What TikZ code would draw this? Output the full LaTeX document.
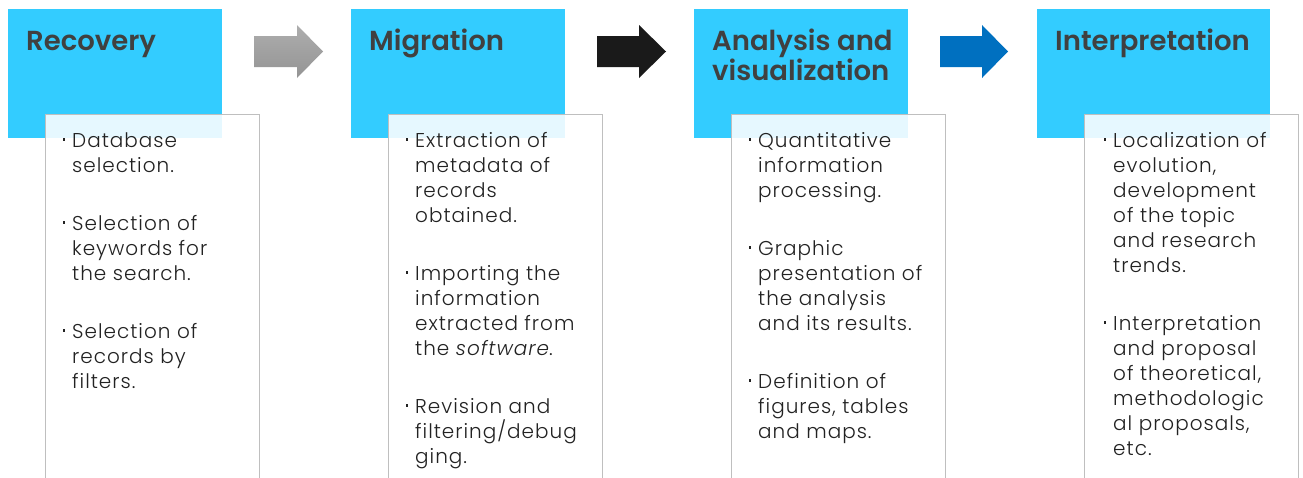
\documentclass[tikz,border=0pt]{standalone}
\usepackage{fontspec}
\setmainfont{Poppins Light}[ItalicFont={Poppins Light Italic}, LetterSpace=5]
\newfontfamily\ttlfont{Poppins SemiBold}
\definecolor{hdr}{HTML}{33CCFF}
\definecolor{ttlcol}{HTML}{404040}
\definecolor{bodycol}{HTML}{222222}
\definecolor{edge}{HTML}{BFBFBF}
\definecolor{arrblue}{HTML}{0070C0}
\definecolor{arrblack}{HTML}{1A1A1A}
\newcommand\itm[1]{\noindent\hangindent=10pt\hangafter=1\makebox[10pt][l]{\kern0.5pt\raisebox{6.5pt}{\rule{2.1pt}{2.1pt}}}#1\par}
\newcommand\itmgap{\vskip33pt}
\newcommand\bodylist[1]{\vtop{\hsize=260pt\fontsize{20}{25}\selectfont\baselineskip=25pt\parskip=0pt\parindent=0pt\rightskip=0pt plus 1fil\parfillskip=0pt plus 1fil #1}}
\tikzset{
  x=1pt, y=-1pt,
  hdrbox/.style={fill=hdr, draw=none, anchor=north west, inner sep=0pt, minimum width=214pt, minimum height=129pt},
  txtbox/.style={fill=white, fill opacity=0.88, draw=edge, line width=1.4pt, anchor=north west, inner sep=0pt, minimum width=214pt, minimum height=380pt},
  ttl/.style={anchor=base west, inner sep=0pt, text=ttlcol, font=\ttlfont\fontsize{27.5}{30}\selectfont},
  body/.style={anchor=base west, inner sep=0pt, text=bodycol},
  blockarrow/.style={draw=none}
}
\begin{document}
\begin{tikzpicture}
\useasboundingbox (0,0) rectangle (1303,477);
\clip (0,0) rectangle (1303,477);
% header boxes
\node[hdrbox] (h1) at (8,9) {};
\node[hdrbox] (h2) at (351,9) {};
\node[hdrbox] (h3) at (694,9) {};
\node[hdrbox, minimum width=233pt] (h4) at (1037,9) {};
% text boxes
\node[txtbox] (w1) at (45,114) {};
\node[txtbox] (w2) at (388,114) {};
\node[txtbox] (w3) at (731,114) {};
\node[txtbox] (w4) at (1083.5,114) {};
% titles
\node[ttl] (t1) at (26,50) {Recovery};
\node[ttl] (t2) at (369,50) {Migration};
\node[ttl] (t3) at (712,50) {\vtop{\baselineskip=30pt\hbox{Analysis and}\hbox{visualization}}};
\node[ttl] (t4) at (1055,50) {Interpretation};
% bodies
\node[body] (b1) at (62,147) {\bodylist{%
\itm{Database\newline selection.}\itmgap
\itm{Selection of\newline keywords for\newline the search.}\itmgap
\itm{Selection of\newline records by\newline filters.}}};
\node[body] (b2) at (405,147) {\bodylist{%
\itm{Extraction of\newline metadata of\newline records\newline obtained.}\itmgap
\itm{Importing the\newline information\newline extracted from\newline the \textit{software}.}\itmgap
\itm{Revision and\newline filtering/debug\newline ging.}}};
\node[body] (b3) at (748,147) {\bodylist{%
\itm{Quantitative\newline information\newline processing.}\itmgap
\itm{Graphic\newline presentation of\newline the analysis\newline and its results.}\itmgap
\itm{Definition of\newline figures, tables\newline and maps.}}};
\node[body] (b4) at (1103,147) {\bodylist{%
\itm{Localization of\newline evolution,\newline development\newline of the topic\newline and research\newline trends.}\itmgap
\itm{Interpretation\newline and proposal\newline of theoretical,\newline methodologic\newline al proposals,\newline etc.}}};
% block arrows
\shade[blockarrow, top color=black!32, bottom color=black!42]
  (254,36) -- (297,36) -- (297,25) -- (323,51.5) -- (297,78) -- (297,67) -- (254,67) -- cycle;
\fill[blockarrow, arrblack]
  (597,36) -- (639,36) -- (639,25) -- (666,51.5) -- (639,78) -- (639,67) -- (597,67) -- cycle;
\fill[blockarrow, arrblue]
  (940,36) -- (982,36) -- (982,25) -- (1008,51.5) -- (982,78) -- (982,67) -- (940,67) -- cycle;
\end{tikzpicture}
\end{document}
